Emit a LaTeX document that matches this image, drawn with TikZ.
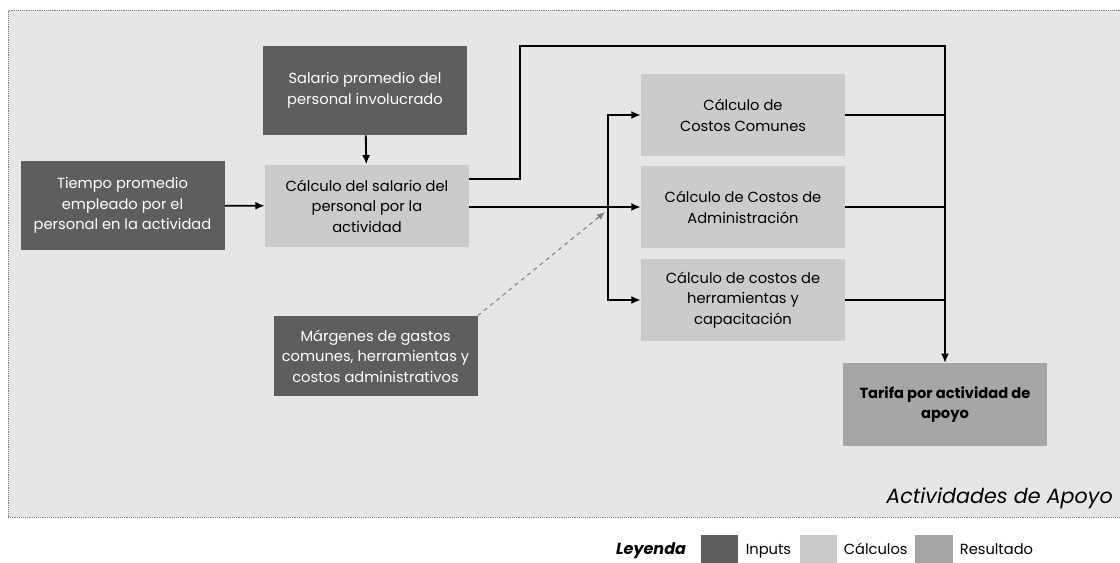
\documentclass[tikz,border=0pt]{standalone}
\usepackage{fontspec}
\setmainfont{Poppins}
\usetikzlibrary{arrows.meta}
\definecolor{fondo}{HTML}{E6E6E6}
\definecolor{inputgris}{HTML}{5E5E5E}
\definecolor{calcgris}{HTML}{CBCBCB}
\definecolor{resgris}{HTML}{A6A6A6}

\begin{document}
\begin{tikzpicture}  % ------ Actividades de apoyo --------------
      [x=0.75pt,y=-0.75pt,
       caja/.style={minimum width=153pt,minimum height=62pt,align=center,
                    inner sep=1pt,font=\fontsize{11}{15.5}\selectfont},
       entrada/.style={caja,fill=inputgris,text=white},
       calculo/.style={caja,fill=calcgris},
       resultado/.style={caja,fill=resgris},
       muestra/.style={minimum width=28pt,minimum height=21pt,inner sep=0pt},
       flecha/.style={line width=1.4pt,-{Latex[length=7pt,width=6pt]}},
       linea/.style={line width=1.4pt}]
    \useasboundingbox (0,0) rectangle (1120,563);
    \fill[fondo] (8,10) rectangle (1120,517);
    \draw[gray,densely dotted] (8,517) -- (8,10) -- (1120,10) (8,517) -- (1120,517);

    % ------ cajas --------------
    \node[entrada,minimum height=67pt] (salario) at (365,90.5) {Salario promedio del\\personal involucrado};
    \node[entrada,minimum height=67pt] (tiempo) at (122.5,205.5) {Tiempo promedio\\empleado por el\\personal en la actividad};
    \node[calculo] (calcsal) at (367,206) {Cálculo del salario del\\personal por la\\actividad};
    \node[calculo] (comunes) at (743,115) {Cálculo de\\Costos Comunes};
    \node[calculo] (admin) at (743,207) {Cálculo de Costos de\\Administración};
    \node[calculo] (herram) at (743,300) {Cálculo de costos de\\herramientas y\\capacitación};
    \node[entrada,minimum height=60pt] (margenes) at (375.5,356) {Márgenes de gastos\\comunes, herramientas y\\costos administrativos};
    \node[resultado,font=\fontsize{11}{15.5}\selectfont\bfseries] (tarifa) at (945,404.5) {Tarifa por actividad de\\apoyo};

    \coordinate (bus) at (608,207);
    \coordinate (arriba) at (520,46);
    \coordinate (margfin) at (605,212);

    % ------ conectores --------------
    \draw[flecha] (tiempo) -- (calcsal);
    \draw[flecha] (salario) -- (calcsal);
    \draw[flecha] (calcsal.east |- bus) -- (admin.west);
    \draw[flecha] (bus) |- (comunes.west);
    \draw[flecha] (bus) |- (herram.west);
    \draw[flecha] (calcsal.east |- 0,179) -| (arriba) -| (tarifa.north);
    \draw[linea] (comunes.east) -- (comunes.east -| tarifa.north);
    \draw[linea] (admin.east) -- (admin.east -| tarifa.north);
    \draw[linea] (herram.east) -- (herram.east -| tarifa.north);
    \draw[gray,dashed,line width=0.8pt,-{Latex[length=6pt,width=5pt]}] (margenes.north east) -- (margfin);

\begin{footnotesize}
    \node[anchor=south east,inner sep=0pt,font=\fontsize{15.5}{18}\selectfont\itshape] (titulo) at (1113,509) {Actividades de Apoyo};

    % ------ leyenda --------------
    \node[anchor=base,font=\fontsize{12}{14}\selectfont\itshape\bfseries] (leyenda) at (651,554) {Leyenda};
    \node[muestra,fill=inputgris] (m1) at (719.5,549) {};
    \node[anchor=base west,font=\fontsize{11}{13}\selectfont] (t1) at (742,554) {Inputs};
    \node[muestra,fill=calcgris] (m2) at (818.5,549) {};
    \node[anchor=base west,font=\fontsize{11}{13}\selectfont] (t2) at (840,554) {Cálculos};
    \node[muestra,fill=resgris] (m3) at (934,549) {};
    \node[anchor=base west,font=\fontsize{11}{13}\selectfont] (t3) at (956,554) {Resultado};
\end{footnotesize}
\end{tikzpicture}
\end{document}
